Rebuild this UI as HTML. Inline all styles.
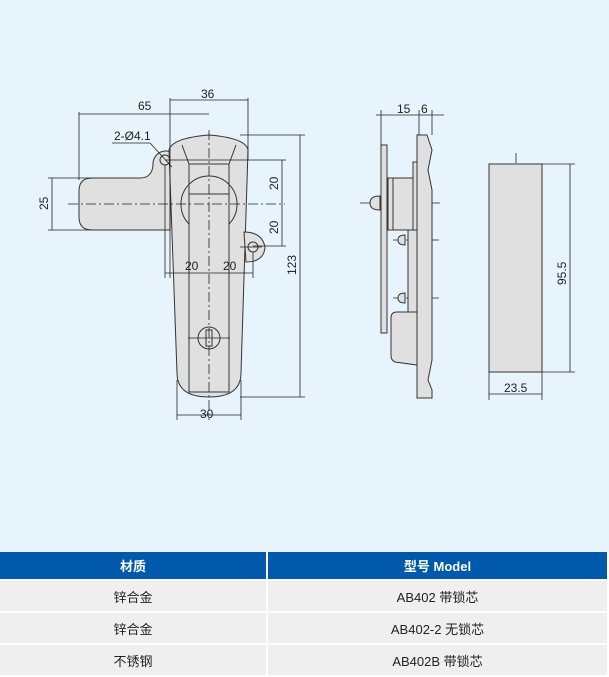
<!DOCTYPE html>
<html><head><meta charset="utf-8"><style>
body{margin:0;width:609px;height:675px;background:#e8f4fc;overflow:hidden;font-family:"Liberation Sans","Noto Sans CJK SC",sans-serif}
svg{position:absolute;left:0;top:0}
table{position:absolute;left:0;top:552px;width:609px;border-collapse:collapse;font-size:13px}
td,th{text-align:center;height:30px;border:2px solid #fff;border-top:0;padding:0}
th{background:#0059ab;color:#fff;height:27px;font-weight:bold;border-left:0}
td{background:#efefef;color:#222}
td:first-child,th:first-child{border-left:0;width:266px}
</style></head><body>
<svg width="609" height="552" font-family="Liberation Sans" font-size="11" fill="#222">
<g fill="#e0e0e0" stroke="#333" stroke-width="1">
<path d="M170,230 L92,230 Q79,230 79,217 L79,191 Q79,178 92,178 L140,178 Q152,178 153,165 A13,13 0 0 1 171,152 Z"/>
<path d="M169,150 Q172,138 209,135 Q246,138 248,150 L241,373 Q241,397 209,397 Q177,397 177,373 Z"/>
<path d="M244,232 Q262,232 265,247 Q264,262 246,262 Z"/>
</g>
<g fill="none" stroke="#333" stroke-width="1">
<circle cx="165" cy="160" r="5"/><circle cx="253" cy="247" r="5"/>
<path d="M182,145 L189,164 L229,164 L236,145"/>
<rect x="189" y="164" width="40" height="228"/>
<path d="M189,224 A28,28 0 0 1 181,204 A28,28 0 0 1 237,204 A28,28 0 0 1 229,224"/>
<line x1="189" y1="194" x2="229" y2="194"/>
<circle cx="209" cy="338" r="11"/><rect x="206" y="330" width="6" height="16"/>
</g>
<g stroke="#222" stroke-width="0.8" fill="none">
<line x1="170" y1="98" x2="170" y2="278"/><line x1="248" y1="98" x2="248" y2="160"/>
<line x1="170" y1="100" x2="248" y2="100"/>
<line x1="79" y1="112" x2="79" y2="180"/><line x1="79" y1="114" x2="209" y2="114"/>
<line x1="112" y1="143" x2="150" y2="143"/><line x1="150" y1="143" x2="172" y2="167"/>
<line x1="48" y1="178" x2="92" y2="178"/><line x1="48" y1="230" x2="92" y2="230"/><line x1="52" y1="178" x2="52" y2="230"/>
<line x1="165" y1="160" x2="286" y2="160"/><line x1="253" y1="246" x2="286" y2="246"/><line x1="282" y1="160" x2="282" y2="246"/>
<line x1="240" y1="135" x2="305" y2="135"/><line x1="240" y1="397" x2="305" y2="397"/><line x1="300" y1="135" x2="300" y2="397"/>
<line x1="165" y1="273" x2="253" y2="273"/><line x1="165" y1="165" x2="165" y2="278"/><line x1="253" y1="252" x2="253" y2="278"/>
<line x1="177" y1="380" x2="177" y2="420"/><line x1="241" y1="380" x2="241" y2="420"/><line x1="177" y1="415" x2="241" y2="415"/>
<g stroke-dasharray="10,3,2,3"><line x1="209" y1="130" x2="209" y2="420"/><line x1="68" y1="204" x2="285" y2="204"/>
<line x1="360" y1="203" x2="440" y2="203"/><line x1="393" y1="240" x2="440" y2="240"/><line x1="393" y1="298" x2="440" y2="298"/><line x1="516" y1="153" x2="516" y2="372"/></g>
<line x1="188" y1="338" x2="230" y2="338"/><line x1="240" y1="247" x2="262" y2="247"/>
</g>
<g fill="#e0e0e0" stroke="#333" stroke-width="1">
<rect x="381" y="145" width="6" height="188"/>
<path d="M417,135 L427,135 L432,150 L428,170 L432,190 L432,360 L428,380 L432,390 L432,398 L417,398 Z"/>
<rect x="388" y="178" width="27" height="52"/><rect x="393" y="178" width="22" height="52"/>
<rect x="413" y="162" width="4" height="70"/>
<rect x="408" y="230" width="9" height="82"/>
<path d="M391,318 Q391,312 397,312 L417,312 L417,365 L395,362 Q391,360 391,356 Z"/>
<path d="M380,196 Q370,196 370,203 Q370,210 380,210 Z"/>
<path d="M405,235 Q398,235 398,240 Q398,245 405,245 Z"/><path d="M405,293 Q398,293 398,298 Q398,303 405,303 Z"/>
<rect x="489" y="164" width="53" height="208"/>
</g>
<g stroke="#222" stroke-width="0.8">
<line x1="381" y1="110" x2="381" y2="145"/><line x1="419" y1="110" x2="419" y2="135"/><line x1="432" y1="110" x2="432" y2="135"/><line x1="376" y1="115" x2="444" y2="115"/>
<line x1="542" y1="164" x2="575" y2="164"/><line x1="542" y1="372" x2="575" y2="372"/><line x1="570" y1="164" x2="570" y2="372"/>
<line x1="489" y1="372" x2="489" y2="400"/><line x1="542" y1="372" x2="542" y2="400"/><line x1="489" y1="394" x2="542" y2="394"/>
</g>
<text x="201" y="98" font-size="12">36</text><text x="138" y="110" font-size="12">65</text>
<text x="114" y="140" font-size="12">2-Ø4.1</text>
<text x="185" y="270" font-size="12">20</text><text x="223" y="270" font-size="12">20</text>
<text x="200" y="418" font-size="12">30</text>
<text transform="translate(48,210) rotate(-90)" font-size="12">25</text>
<text transform="translate(278,190) rotate(-90)" font-size="12">20</text>
<text transform="translate(278,234) rotate(-90)" font-size="12">20</text>
<text transform="translate(296,275) rotate(-90)" font-size="12">123</text>
<text x="397" y="113" font-size="12">15</text><text x="421" y="113" font-size="12">6</text>
<text transform="translate(566,285) rotate(-90)" font-size="12">95.5</text>
<text x="504" y="392" font-size="12">23.5</text>
</svg>
<table><tr><th>材质</th><th>型号 Model</th></tr>
<tr><td>锌合金</td><td>AB402 带锁芯</td></tr>
<tr><td>锌合金</td><td>AB402-2 无锁芯</td></tr>
<tr><td>不锈钢</td><td>AB402B 带锁芯</td></tr></table>
</body></html>
